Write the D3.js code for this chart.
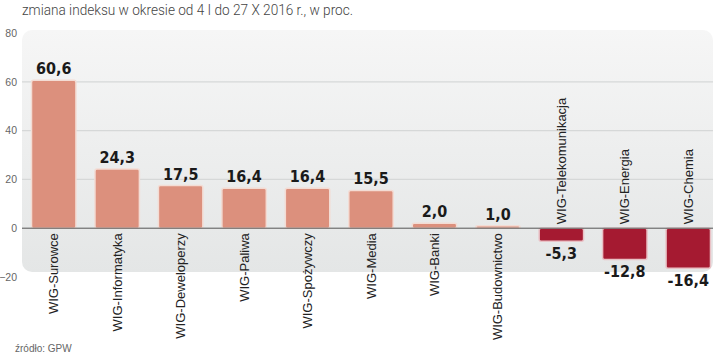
<!DOCTYPE html>
<html><head><meta charset="utf-8">
<script src="https://cdn.jsdelivr.net/npm/d3@7"></script>
<style>body{margin:0;background:#fff}svg{display:block}</style>
</head><body>
<script>
const categories = ["WIG-Surowce","WIG-Informatyka","WIG-Deweloperzy","WIG-Paliwa","WIG-Spożywczy","WIG-Media","WIG-Banki","WIG-Budownictwo","WIG-Telekomunikacja","WIG-Energia","WIG-Chemia"];
const values = [60.6, 24.3, 17.5, 16.4, 16.4, 15.5, 2.0, 1.0, -5.3, -12.8, -16.4];
const yTicks = [-20, 0, 20, 40, 60, 80];
const title = "zmiana indeksu w okresie od 4 I do 27 X 2016 r., w proc.";
const source = "źródło: GPW";

const W = 720, H = 357;
const svg = d3.select("body").append("svg").attr("width", W).attr("height", H);
const defs = svg.append("defs");
const grad = defs.append("linearGradient").attr("id","bg").attr("x1",0).attr("y1",0).attr("x2",0).attr("y2",1);
grad.append("stop").attr("offset","0%").attr("stop-color","#f6f6f6");
grad.append("stop").attr("offset","100%").attr("stop-color","#e4e6e6");

const y = d3.scaleLinear().domain([-20, 80]).range([277, 33]);
const x = d3.scaleBand().domain(categories).range([22, 720]).paddingInner(0.3).paddingOuter(0.15);

// panel
svg.append("rect").attr("x",22).attr("y",30).attr("width",691).attr("height",242)
  .attr("rx",10).attr("fill","url(#bg)");

// gridlines
svg.append("g").selectAll("line").data(yTicks.filter(d => d > 0 && d < 80)).join("line")
  .attr("x1",22).attr("x2",713).attr("y1",d=>y(d)).attr("y2",d=>y(d))
  .attr("stroke","#d6d8d8").attr("stroke-width",1.2);

// y axis labels
const yAxis = d3.axisLeft(y).tickValues(yTicks).tickSize(0).tickPadding(0);
const ga = svg.append("g").attr("transform","translate(17,0)").call(yAxis);
ga.select(".domain").remove();
ga.selectAll("text").attr("font-family","Liberation Sans, Arial, sans-serif").attr("font-size",10.5).attr("fill","#666");

// bars
svg.append("g").selectAll("rect").data(values).join("rect")
  .attr("x",(d,i)=>x(categories[i]))
  .attr("width",x.bandwidth())
  .attr("y",d=>y(Math.max(0,d)))
  .attr("height",d=>Math.abs(y(d)-y(0)))
  .attr("rx",2)
  .attr("fill",d=>d>=0?"#dc907d":"#a51a31")
  .attr("stroke",d=>d>=0?"#f3dcd4":"#e9c2c6")
  .attr("stroke-width",1.5);

// zero line
svg.append("line").attr("x1",22).attr("x2",713).attr("y1",y(0)).attr("y2",y(0))
  .attr("stroke","#555").attr("stroke-width",1);

// value labels
const fmt = v => v.toFixed(1).replace(".", ",");
svg.append("g").selectAll("text").data(values).join("text")
  .attr("x",(d,i)=>x(categories[i])+x.bandwidth()/2)
  .attr("y",d=>d>=0 ? y(d)-6 : y(d)+18)
  .attr("text-anchor","middle")
  .attr("font-family","DejaVu Sans Condensed, DejaVu Sans, sans-serif")
  .attr("font-weight","bold").attr("font-size",16).attr("fill","#1a1a1a")
  .text(d=>fmt(d));

// category labels
svg.append("g").selectAll("text").data(categories).join("text")
  .attr("transform",(c,i)=>{
    const cx = x(c)+x.bandwidth()/2 + 4.5;
    const yy = values[i]>=0 ? y(0)+5 : y(0)-4;
    return `translate(${cx},${yy}) rotate(-90)`;
  })
  .attr("text-anchor",(c,i)=>values[i]>=0?"end":"start")
  .attr("font-family","Liberation Sans, Arial, sans-serif").attr("font-size",13).attr("fill","#222")
  .text(c=>c);

// title
svg.append("text").attr("x",22).attr("y",15).attr("font-family","Roboto, sans-serif")
  .attr("font-weight",300).attr("font-size",14.5).attr("fill","#444")
  .attr("textLength",331).attr("lengthAdjust","spacingAndGlyphs").text(title);

// source
svg.append("text").attr("x",15).attr("y",352).attr("font-family","Liberation Sans, Arial, sans-serif")
  .attr("font-size",10).attr("fill","#666").text(source);
</script>
</body></html>
